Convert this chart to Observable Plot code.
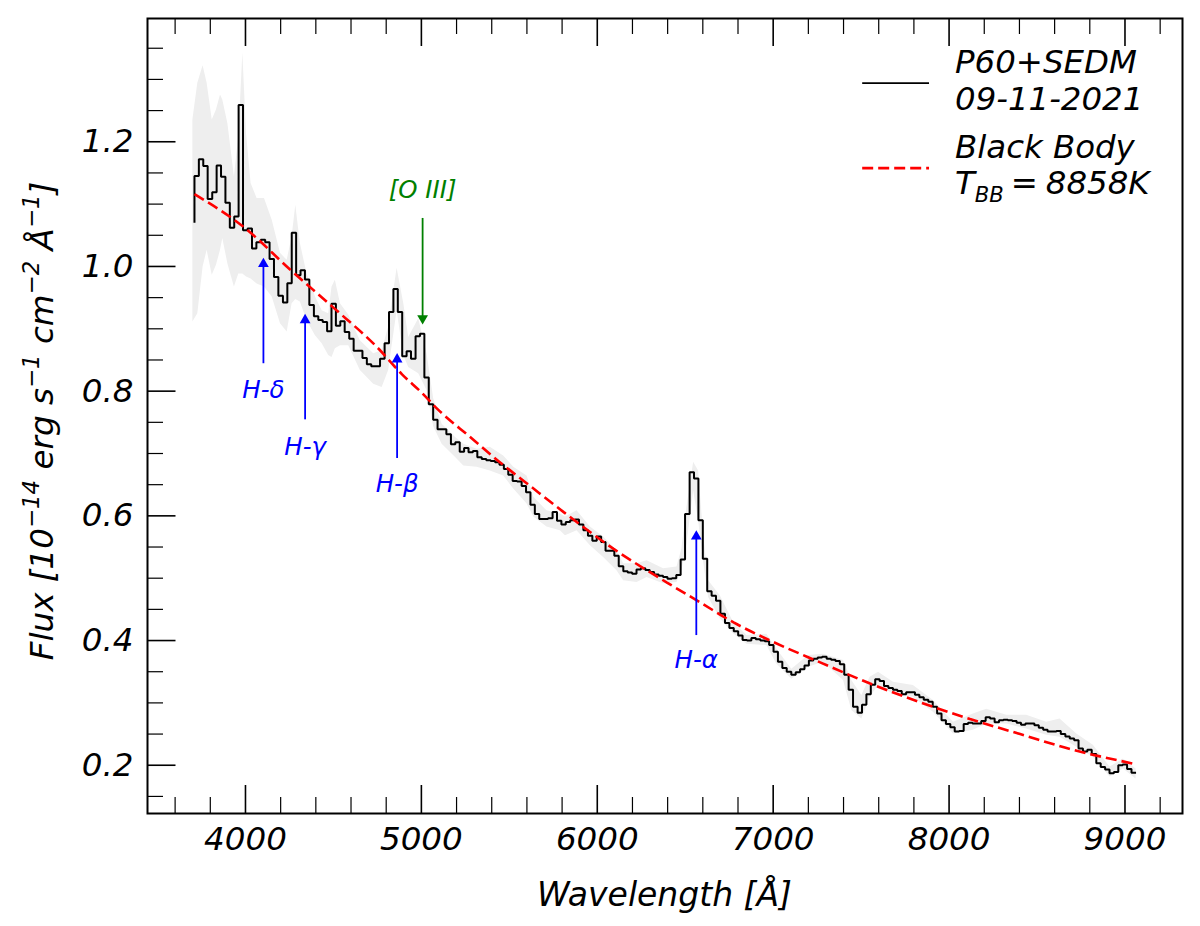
<!DOCTYPE html>
<html><head><meta charset="utf-8">
<script src="https://cdn.jsdelivr.net/npm/d3@7"></script>
<script src="https://cdn.jsdelivr.net/npm/@observablehq/plot@0.6"></script>
<style>html,body{margin:0;padding:0;background:#fff;overflow:hidden}svg{display:block}</style>
</head><body><div id="c"></div>
<script>
const wave = [3710,3710,3735,3760,3785,3811,3836,3861,3886,3911,3936,3961,3986,4012,4037,4062,4087,4112,4137,4162,4187,4213,4238,4263,4288,4313,4338,4363,4389,4414,4439,4464,4489,4514,4539,4564,4590,4615,4640,4665,4690,4715,4740,4765,4791,4816,4841,4866,4891,4916,4941,4967,4992,5017,5042,5067,5092,5117,5142,5168,5193,5218,5243,5268,5293,5318,5343,5369,5394,5419,5444,5469,5494,5519,5544,5570,5595,5620,5645,5670,5695,5720,5746,5771,5796,5821,5846,5871,5896,5921,5947,5972,5997,6022,6047,6072,6097,6122,6148,6173,6198,6223,6248,6273,6298,6323,6349,6374,6399,6424,6449,6474,6499,6525,6550,6575,6600,6625,6650,6675,6700,6726,6751,6776,6801,6826,6851,6876,6901,6927,6952,6977,7002,7027,7052,7077,7103,7128,7153,7178,7203,7228,7253,7278,7304,7329,7354,7379,7404,7429,7454,7480,7505,7530,7555,7580,7605,7630,7655,7681,7706,7731,7756,7781,7806,7831,7856,7882,7907,7932,7957,7982,8007,8032,8057,8083,8108,8133,8158,8183,8208,8233,8259,8284,8309,8334,8359,8384,8409,8434,8460,8485,8510,8535,8560,8585,8610,8635,8661,8686,8711,8736,8761,8786,8811,8837,8862,8887,8912,8937,8962,8987,9012,9037,9063];
const flux = [1.070,
1.145,1.172,1.161,1.108,1.119,1.162,1.144,1.102,1.062,1.080,
1.259,1.058,1.061,1.029,1.039,1.043,1.039,1.012,.983,.953,
.942,.973,1.054,.986,.994,.979,.938,.920,.914,.911,
.896,.940,.905,.912,.895,.884,.865,.865,.853,.843,
.840,.840,.852,.877,.927,.964,.927,.856,.864,.852,
.888,.892,.822,.779,
.754,.739,.739,.731,.715,.718,.703,.709,.702,.704,
.694,.691,.689,.688,.686,.682,.675,.666,.656,.655,
.648,.638,.618,.603,.595,.595,.596,.606,.592,.586,
.590,.593,.594,.586,.577,.568,.560,.567,.558,.544,
.544,.536,.519,.511,.509,.507,.514,.516,.513,.510,
.506,.504,.502,.499,.500,.505,.530,.603,.670,.660,
.593,.531,.479,.472,.464,.443,
.428,.420,.415,.408,.401,.400,.404,.402,.400,.399,
.393,.382,.366,.356,.350,.345,.349,.354,.360,.368,
.371,.373,.374,.371,.369,.367,.362,.345,.321,.294,
.284,.297,.314,.329,.338,.335,.327,.324,.321,.319,
.314,.317,.317,.313,.309,.305,.302,.294,.283,.272,
.266,.261,.254,.255,.266,.268,.267,.267,.271,.277,
.275,.269,.272,.273,.272,.271,.268,.265,.267,.267,
.264,.260,.257,.254,.254,.255,.250,.246,.243,.240,
.227,.222,.225,.218,.203,.197,.193,.187,.189,.200,
.201,.194,.188,.188];

const bandWave = [3701,3729,3759,3782,3811,3835,3858,3871,3900,3937,3962,3985,4006,4032,4066,4108,4152,4199,4237,4265,4286,4312,4350,4398,4436,4473,4492,4511,4540,4587,4653,4729,4777,4814,4862,4900,4928,4985,5032,5070,5118,5193,5241,5317,5392,5468,5525,5601,5639,5714,5790,5819,5885,5961,6036,6112,6150,6226,6283,6377,6453,6481,6510,6548,6576,6604,6633,6699,6775,6851,6964,7021,7106,7201,7286,7400,7447,7504,7551,7599,7684,7797,7911,8025,8138,8214,8328,8441,8555,8631,8726,8820,8915,8991,9063];
const bandUpper = [1.235,1.294,1.322,1.294,1.235,1.251,1.275,1.267,1.229,1.144,1.208,1.342,1.213,1.133,1.109,1.109,1.074,1.021,1.010,1.047,1.098,1.037,.988,.951,.929,.924,.967,.978,.940,.922,.881,.860,.865,.903,.997,.940,.886,.916,.860,.788,.747,.726,.715,.707,.710,.696,.678,.664,.630,.608,.603,.598,.608,.582,.566,.544,.523,.523,.528,.515,.518,.547,.614,.686,.672,.571,.496,.472,.429,.408,.410,.386,.354,.376,.378,.368,.336,.312,.341,.349,.333,.328,.304,.269,.282,.290,.280,.280,.269,.274,.250,.232,.197,.210,.194];
const bandLower = [.911,.924,.999,1.026,.986,1.002,1.026,1.045,1.004,.967,.988,.988,.983,.980,.972,.967,.951,.908,.895,.940,.947,.943,.913,.889,.876,.857,.854,.868,.873,.873,.833,.811,.806,.833,.929,.857,.838,.828,.801,.743,.715,.694,.680,.678,.672,.664,.643,.619,.598,.582,.576,.568,.576,.552,.533,.512,.496,.493,.501,.491,.493,.512,.555,.640,.592,.528,.469,.435,.411,.394,.392,.362,.338,.357,.365,.336,.288,.274,.309,.328,.314,.309,.285,.250,.256,.266,.266,.258,.248,.245,.229,.213,.181,.194,.178];

const bbWave = [3710,4000,4250,4500,4750,4890,5000,5089,5279,5468,5591,5809,6093,6396,6586,6775,6983,7267,7551,7835,8119,8404,8688,9057];
const bbFlux = [1.116,1.061,.996,.934,.870,.827,.798,.772,.726,.681,.654,.606,.547,.493,.461,.429,.400,.365,.331,.301,.274,.250,.226,.202];

const xMajor = [4000,5000,6000,7000,8000,9000];
const xMinor = [3600,3800,4200,4400,4600,4800,5200,5400,5600,5800,6200,6400,6600,6800,7200,7400,7600,7800,8200,8400,8600,8800,9200];
const yMajor = [.2,.4,.6,.8,1.0,1.2];
const yMinor = [.15,.25,.3,.35,.45,.5,.55,.65,.7,.75,.85,.9,.95,1.05,1.1,1.15,1.25,1.3,1.35];

const lineNames = ["H-δ","H-γ","H-β","H-α","[O III]"];
const lineWave = [4102,4339,4862,6563,5007];
const lineTail = [.844,.754,.692,.408,1.077];
const lineTip = [1.014,.924,.861,.577,.907];
const lineLabelY = [.801,.710,.651,.369,1.122];
const lineColor = ["#0000ff","#0000ff","#0000ff","#0000ff","#008000"];

const xDom=[3443,9327], yDom=[.1226,1.3977];
const PXY=623.7, PXX=0.1759;
const spec = wave.map((w,i)=>({w,f:flux[i]}));
const band = bandWave.map((w,i)=>({w,u:bandUpper[i],l:bandLower[i]}));
const bb = bbWave.map((w,i)=>({w,f:bbFlux[i]}));
const lines = lineNames.map((n,i)=>({n,w:lineWave[i],a:lineTail[i],b:lineTip[i],t:lineLabelY[i],c:lineColor[i]}));
const FONT = '"DejaVu Sans",sans-serif';
const bottom=yDom[0], top_=yDom[1], left=xDom[0];
const butt={strokeLinecap:"butt",strokeLinejoin:"miter"};

const svg = Plot.plot({
  width:1200,height:926,marginLeft:147,marginRight:18,marginTop:18,marginBottom:113,
  style:{fontFamily:FONT,fontStyle:"italic",background:"#fff",color:"#000"},
  x:{domain:xDom,label:null},y:{domain:yDom,label:null},
  marks:[
    Plot.areaY(band,{x:"w",y1:"l",y2:"u",fill:"#eeeeee",curve:"linear"}),
    Plot.line(spec,{x:"w",y:"f",stroke:"#000",strokeWidth:2,curve:"step-after",...butt}),
    Plot.line(bb,{x:"w",y:"f",stroke:"#ff0000",strokeWidth:2.6,strokeDasharray:"11,5",curve:"monotone-x",...butt}),
    Plot.ruleX(lines,{x:"w",y1:"a",y2:d=>d.b+(d.b<d.a?5:-5)/PXY,stroke:"c",strokeWidth:1.8}),
    Plot.dot(lines.filter(d=>d.b>d.a),{x:"w",y:"b",dy:6.2,symbol:"triangle",r:4,fill:"c",stroke:"none"}),
    Plot.dot(lines.filter(d=>d.b<d.a),{x:"w",y:"b",dy:-6.2,symbol:"triangle",r:4,fill:"c",stroke:"none",rotate:180}),
    Plot.text(lines,{x:"w",y:"t",text:"n",fill:"c",fontSize:24.5,fontStyle:"italic"}),
    Plot.ruleX(xMajor,{x:d=>d,y1:bottom,y2:bottom+28/PXY,stroke:"#000",strokeWidth:1.6}),
    Plot.ruleX(xMinor,{x:d=>d,y1:bottom,y2:bottom+16/PXY,stroke:"#000",strokeWidth:1.2}),
    Plot.ruleX(xMajor,{x:d=>d,y1:top_,y2:top_-28/PXY,stroke:"#000",strokeWidth:1.6}),
    Plot.ruleX(xMinor,{x:d=>d,y1:top_,y2:top_-16/PXY,stroke:"#000",strokeWidth:1.2}),
    Plot.ruleY(yMajor,{y:d=>d,x1:left,x2:left+28.5/PXX,stroke:"#000",strokeWidth:1.6}),
    Plot.ruleY(yMinor,{y:d=>d,x1:left,x2:left+16/PXX,stroke:"#000",strokeWidth:1.2}),
    Plot.frame({stroke:"#000",strokeWidth:2}),
    Plot.axisX({ticks:xMajor,tickSize:0,tickPadding:13,fontSize:32.5,fontStyle:"italic",tickFormat:d=>String(d),label:null}),
    Plot.axisY({ticks:yMajor,tickSize:0,tickPadding:14,fontSize:32.5,fontStyle:"italic",tickFormat:d=>d.toFixed(1),label:null}),
    Plot.line([{x:7506,y:1.294},{x:7886,y:1.294}],{x:"x",y:"y",stroke:"#000",strokeWidth:1.6,...butt}),
    Plot.line([{x:7506,y:1.1577},{x:7886,y:1.1577}],{x:"x",y:"y",stroke:"#ff0000",strokeWidth:2.6,strokeDasharray:"11,5",...butt}),
    Plot.text(["P60+SEDM"],{x:8034,y:1.3269,text:d=>d,textAnchor:"start",fontSize:32.4,fontStyle:"italic"}),
    Plot.text(["09-11-2021"],{x:8034,y:1.2672,text:d=>d,textAnchor:"start",fontSize:32.4,fontStyle:"italic"}),
    Plot.text(["Black Body"],{x:8034,y:1.1907,text:d=>d,textAnchor:"start",fontSize:32.4,fontStyle:"italic"})
  ]
});

function rich(parent,x,y,rot,size,anchor,parts){
  const t=d3.select(parent).append("text")
    .attr("transform",`translate(${x},${y}) rotate(${rot})`)
    .attr("text-anchor",anchor).attr("font-family",FONT).attr("font-style","italic")
    .attr("font-size",size).attr("fill","#000");
  let shift=0;
  for(const [s,k,dx] of parts){
    const off=k==="sup"?-0.42*size:k==="sub"?0.24*size:0;
    t.append("tspan").attr("dy",off-shift).attr("dx",dx||0)
      .attr("font-size",k==="sub"?size*0.65:k?size*0.7:size).text(s);
    shift=off;
  }
}
rich(svg,537,906,0,33,"start",[["Wavelength [Å]"]]);
rich(svg,53,421,-90,32.6,"middle",[["Flux [10"],["−14","sup"],[" erg s"],["−1","sup"],[" cm"],["−2","sup"],[" Å"],["−1","sup"],["]"]]);
rich(svg,955,194,0,32.4,"start",[["T"],["BB","sub"],["=",null,7],["8858K",null,8]]);
document.getElementById("c").appendChild(svg);
</script></body></html>
